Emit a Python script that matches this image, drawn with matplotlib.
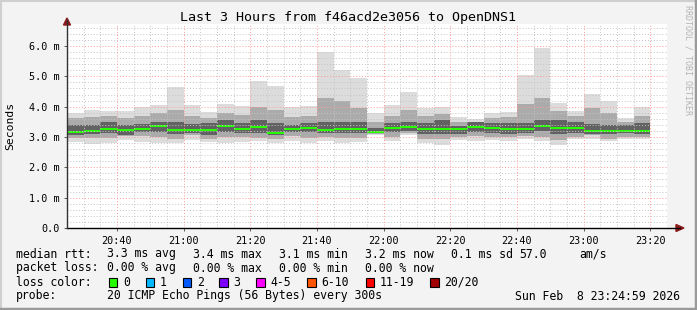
import matplotlib
matplotlib.use("Agg")
import matplotlib.pyplot as plt
from matplotlib.patches import Rectangle, Polygon
from matplotlib.lines import Line2D
import numpy as np

# ---------------- data ----------------
title = "Last 3 Hours from f46acd2e3056 to OpenDNS1"
start_min = 20 * 60 + 25          # 20:25, start of first 5-minute step
step_min = 5
end_min = start_min + 180

median = [3.17, 3.21, 3.26, 3.22, 3.26, 3.36, 3.24, 3.24, 3.24, 3.37, 3.26, 3.34,
          3.14, 3.26, 3.30, 3.24, 3.26, 3.26, 3.17, 3.30, 3.34, 3.26, 3.26, 3.26,
          3.34, 3.30, 3.26, 3.26, 3.37, 3.30, 3.30, 3.21, 3.21, 3.21, 3.21]
rtt_max = [3.79, 3.89, 3.87, 3.85, 4.00, 4.05, 4.65, 4.06, 3.81, 4.09, 4.02, 4.86,
           4.68, 3.98, 4.02, 5.81, 5.21, 4.96, 3.80, 4.06, 4.49, 3.95, 4.00, 3.67,
           3.58, 3.78, 3.83, 5.04, 5.95, 4.13, 3.87, 4.42, 4.18, 3.62, 3.98]
rtt_min = [2.85, 2.78, 2.80, 2.90, 2.85, 2.80, 2.80, 2.90, 2.85, 2.80, 2.85, 2.86,
           2.80, 2.86, 2.80, 2.88, 2.80, 2.82, 3.05, 2.86, 3.08, 2.79, 2.74, 2.90,
           2.86, 2.90, 2.86, 2.94, 2.86, 2.72, 2.94, 2.92, 2.86, 2.94, 2.94]
q10 = [2.98, 2.97, 2.98, 3.02, 3.02, 3.00, 2.95, 3.05, 2.95, 3.00, 3.00, 2.97,
       2.95, 3.02, 2.97, 3.00, 2.96, 2.97, 3.10, 3.00, 3.12, 2.92, 2.92, 3.00,
       3.02, 3.00, 3.00, 3.02, 3.00, 2.90, 3.00, 3.05, 2.95, 3.00, 3.00]
q25 = [3.07, 3.10, 3.12, 3.08, 3.15, 3.15, 3.10, 3.12, 3.05, 3.15, 3.12, 3.12,
       3.05, 3.15, 3.15, 3.12, 3.12, 3.12, 3.13, 3.15, 3.20, 3.10, 3.10, 3.10,
       3.18, 3.12, 3.10, 3.12, 3.20, 3.10, 3.12, 3.10, 3.10, 3.12, 3.10]
q75 = [3.40, 3.38, 3.48, 3.38, 3.42, 3.50, 3.48, 3.42, 3.45, 3.55, 3.45, 3.55,
       3.45, 3.40, 3.45, 3.50, 3.50, 3.50, 3.30, 3.45, 3.50, 3.45, 3.55, 3.35,
       3.48, 3.45, 3.45, 3.45, 3.55, 3.55, 3.50, 3.42, 3.40, 3.40, 3.45]
q90 = [3.62, 3.65, 3.70, 3.62, 3.70, 3.80, 3.90, 3.70, 3.62, 3.80, 3.72, 4.00,
       3.90, 3.65, 3.70, 4.30, 4.20, 3.95, 3.50, 3.70, 3.90, 3.70, 3.75, 3.50,
       3.50, 3.62, 3.65, 4.10, 4.30, 3.85, 3.70, 3.95, 3.80, 3.50, 3.70]

y_ticks = [0, 1, 2, 3, 4, 5, 6]
y_ticklabels = ["0.0", "1.0 m", "2.0 m", "3.0 m", "4.0 m", "5.0 m", "6.0 m"]
x_tick_labels = ["20:40", "21:00", "21:20", "21:40", "22:00", "22:20", "22:40", "23:00", "23:20"]

legend_rtt = ["3.3 ms avg", "3.4 ms max", "3.1 ms min", "3.2 ms now", "0.1 ms sd", "57.0", "am/s"]
legend_loss = ["0.00 % avg", "0.00 % max", "0.00 % min", "0.00 % now"]
loss_labels = ["0", "1", "2", "3", "4-5", "6-10", "11-19", "20/20"]
loss_colors = ["#26ff00", "#00b8ff", "#0059ff", "#7e00ff", "#ff00fe", "#ff5500", "#ff0000", "#a10000"]
probe_text = "20 ICMP Echo Pings (56 Bytes) every 300s"
date_text = "Sun Feb  8 23:24:59 2026"

# ---------------- layout ----------------
W, H = 697, 310
fig = plt.figure(figsize=(W / 100, H / 100), dpi=100)
fig.patch.set_facecolor("#f3f3f3")
MONO = "DejaVu Sans Mono"

def fx(px):
    return px / W

def fy(py):
    return 1 - py / H

# frame (3d shade)
fig.add_artist(Line2D([0, 1], [fy(0.5), fy(0.5)], color="#cfcfcf", lw=1.5, transform=fig.transFigure))
fig.add_artist(Line2D([fx(0.5), fx(0.5)], [0, 1], color="#cfcfcf", lw=1.5, transform=fig.transFigure))
fig.add_artist(Line2D([0, 1], [fy(309), fy(309)], color="#9a9a9a", lw=2.5, transform=fig.transFigure))
fig.add_artist(Line2D([fx(696), fx(696)], [0, 1], color="#9a9a9a", lw=2.5, transform=fig.transFigure))

L, R, B, T = 67, 667, 228, 24
ax = fig.add_axes([fx(L), fy(B), fx(R) - fx(L), fy(T) - fy(B)])
ax.set_facecolor("white")
ymax = 6.0 * (B - T) / (B - 46)
ax.set_xlim(start_min, end_min)
ax.set_ylim(0, ymax)

n = len(median)
xs = [start_min + i * step_min for i in range(n)]

# smoke bands
ax.bar(xs, [a - b for a, b in zip(rtt_max, rtt_min)], bottom=rtt_min, width=step_min,
       align="edge", color="#dcdcdc", linewidth=0, zorder=1)
ax.bar(xs, [a - b for a, b in zip(q90, q10)], bottom=q10, width=step_min,
       align="edge", color="#ababab", linewidth=0, zorder=2)
ax.bar(xs, [a - b for a, b in zip(q75, q25)], bottom=q25, width=step_min,
       align="edge", color="#626262", linewidth=0, zorder=3)
# median (loss colour 0)
sw = 0.035
ax.bar(xs, [2 * sw] * n, bottom=[m - sw for m in median], width=step_min,
       align="edge", color=loss_colors[0], linewidth=0, zorder=5)

# grid
minor_y = np.arange(0.2, ymax, 0.2)
for yv in minor_y:
    if abs(yv - round(yv)) > 1e-6:
        ax.axhline(yv, color="#c4c4c4", lw=0.7, ls=(0, (1, 2)), zorder=6)
for yv in y_ticks[1:]:
    ax.axhline(yv, color="#ff9a9a", lw=0.7, ls=(0, (1, 2)), zorder=6)
for t in range(start_min + 5, end_min + 1, 5):
    if t % 20 == 0:
        ax.axvline(t, color="#ff9a9a", lw=0.7, ls=(0, (1, 2)), zorder=6)
    else:
        ax.axvline(t, color="#c4c4c4", lw=0.7, ls=(0, (1, 2)), zorder=6)

for s in ax.spines.values():
    s.set_visible(False)

major_x = [t for t in range(start_min, end_min + 1) if t % 20 == 0]
ax.set_xticks(major_x)
ax.set_xticklabels(x_tick_labels, family=MONO, fontsize=7.3)
ax.set_yticks(y_ticks)
ax.set_yticklabels(y_ticklabels, family=MONO, fontsize=7.3)
ax.tick_params(axis="both", length=2, width=0.6, color="#444444", pad=3)
ax.tick_params(axis="x", pad=4)

# axes lines with arrows
fig.add_artist(Line2D([fx(L), fx(680)], [fy(B), fy(B)], color="black", lw=1.0, transform=fig.transFigure))
fig.add_artist(Line2D([fx(L), fx(L)], [fy(B), fy(20)], color="#333333", lw=1.0, transform=fig.transFigure))
fig.add_artist(Polygon([[fx(676), fy(B - 3.5)], [fx(676), fy(B + 3.5)], [fx(684), fy(B)]],
                       closed=True, color="#8b1a1a", transform=fig.transFigure))
fig.add_artist(Polygon([[fx(L - 3.5), fy(25)], [fx(L + 3.5), fy(25)], [fx(L), fy(18)]],
                       closed=True, color="#8b1a1a", transform=fig.transFigure))

# title, labels
fig.text(0.5, fy(18), title, ha="center", va="center", family=MONO, fontsize=9.6)
fig.text(fx(10), fy(126), "Seconds", rotation=90, ha="center", va="center", family=MONO, fontsize=8.2)
fig.text(fx(688), fy(5), "RRDTOOL / TOBI OETIKER", rotation=270, ha="center", va="top",
         family=MONO, fontsize=6.0, color="#b4b4b4")

# legend
LS = 8.3
col_x = [107, 193, 279, 365, 451, 519, 579]
row_y = [254, 268, 282, 296]
fig.text(fx(16), fy(row_y[0]), "median rtt:", family=MONO, fontsize=LS, va="center")
for xp, s in zip(col_x, legend_rtt):
    fig.text(fx(xp), fy(row_y[0]), s, family=MONO, fontsize=LS, va="center")
fig.text(fx(16), fy(row_y[1]), "packet loss:", family=MONO, fontsize=LS, va="center")
for xp, s in zip(col_x, legend_loss):
    fig.text(fx(xp), fy(row_y[1]), s, family=MONO, fontsize=LS, va="center")
fig.text(fx(16), fy(row_y[2]), "loss color:", family=MONO, fontsize=LS, va="center")
box_x = [108.5, 145.5, 182.5, 219, 256, 307, 365.5, 430]
for bx, lab, c in zip(box_x, loss_labels, loss_colors):
    fig.add_artist(Rectangle((fx(bx), fy(286.5)), fx(8.5), fy(278) - fy(286.5), facecolor=c,
                             edgecolor="black", lw=0.8, transform=fig.transFigure))
    fig.text(fx(bx + 14.5), fy(row_y[2]), lab, family=MONO, fontsize=LS, va="center")
fig.text(fx(16), fy(row_y[3]), "probe:", family=MONO, fontsize=LS, va="center")
fig.text(fx(107), fy(row_y[3]), probe_text, family=MONO, fontsize=LS, va="center")
fig.text(fx(680), fy(row_y[3]), date_text, family=MONO, fontsize=LS, va="center", ha="right")

fig.savefig("out.png", dpi=100, facecolor=fig.get_facecolor())
